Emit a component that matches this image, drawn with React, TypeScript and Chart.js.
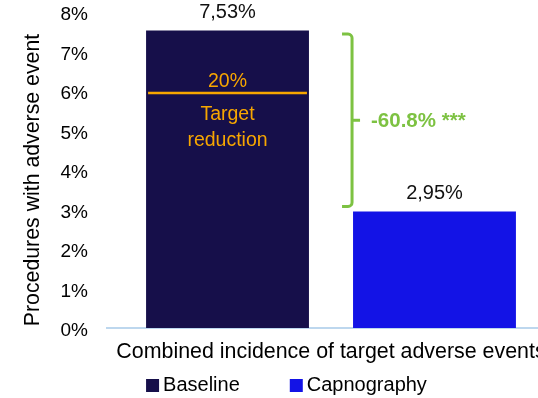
import React, { useEffect, useRef } from "react";
import { Chart, registerables } from "chart.js";

Chart.register(...registerables);

const categories = ["Combined incidence of target adverse events"];
const seriesNames = ["Baseline", "Capnography"];
const baselineValues = [7.53];
const capnographyValues = [2.95];
const yTickValues = [0, 1, 2, 3, 4, 5, 6, 7, 8];
const targetLevel = [5.95];
const targetTop = "20%";
const targetLines = ["Target", "reduction"];
const changeLabel = "-60.8% ***";
const yTitle = "Procedures with adverse event";

const NAVY = "#160F4A";
const BLUE = "#1313E6";
const ORANGE = "#F7A600";
const GREEN = "#7DC242";
const AXIS = "#BDD7EE";
const FONT = "'Liberation Sans', Arial, sans-serif";

const fmt = (v: number) => v.toFixed(2).replace(".", ",") + "%";

const annotPlugin = {
  id: "annot",
  afterDraw(chart: any) {
    const ctx: CanvasRenderingContext2D = chart.ctx;
    const ys = chart.scales.y;
    const b1 = chart.getDatasetMeta(0).data[0] as any;
    const b2 = chart.getDatasetMeta(1).data[0] as any;
    const bars = [b1, b2];
    const vals = [baselineValues[0], capnographyValues[0]];
    ctx.save();

    // y title
    ctx.save();
    ctx.translate(33, 180);
    ctx.rotate(-Math.PI / 2);
    ctx.font = `21.3px ${FONT}`;
    ctx.fillStyle = "#000";
    ctx.textAlign = "center";
    ctx.textBaseline = "middle";
    ctx.fillText(yTitle, 0, 0);
    ctx.restore();

    // value labels
    ctx.font = `20px ${FONT}`;
    ctx.fillStyle = "#111";
    ctx.textAlign = "center";
    ctx.textBaseline = "alphabetic";
    bars.forEach((b, i) => ctx.fillText(fmt(vals[i]), b.x, b.y - 12.5));

    // target line
    const ty = ys.getPixelForValue(targetLevel[0]);
    ctx.strokeStyle = ORANGE;
    ctx.lineWidth = 2.5;
    ctx.beginPath();
    ctx.moveTo(b1.x - b1.width / 2 + 2, ty);
    ctx.lineTo(b1.x + b1.width / 2 - 2, ty);
    ctx.stroke();
    ctx.fillStyle = ORANGE;
    ctx.font = `19.5px ${FONT}`;
    ctx.fillText(targetTop, b1.x, ty - 6);
    ctx.fillText(targetLines[0], b1.x, ty + 27);
    ctx.fillText(targetLines[1], b1.x, ty + 53);

    // bracket
    const bx = b2.x - b2.width / 2 - 1;
    const top = b1.y + 3.5;
    const bot = b2.y - 5;
    const mid = (top + bot) / 2;
    ctx.strokeStyle = GREEN;
    ctx.lineWidth = 3;
    ctx.beginPath();
    ctx.moveTo(bx - 10, top);
    ctx.arcTo(bx, top, bx, bot, 4);
    ctx.arcTo(bx, bot, bx - 10, bot, 4);
    ctx.lineTo(bx - 10, bot);
    ctx.stroke();
    ctx.beginPath();
    ctx.moveTo(bx, mid);
    ctx.lineTo(bx + 8, mid);
    ctx.stroke();
    ctx.fillStyle = GREEN;
    ctx.font = `bold 20.5px ${FONT}`;
    ctx.textAlign = "left";
    ctx.textBaseline = "middle";
    ctx.fillText(changeLabel, bx + 19, mid + 1.5);

    // legend
    const colors = [NAVY, BLUE];
    let lx = b1.x - b1.width / 2;
    const ly = 385.5;
    ctx.font = `20px ${FONT}`;
    seriesNames.forEach((name, i) => {
      ctx.fillStyle = colors[i];
      ctx.fillRect(lx, ly - 6.5, 13, 13);
      ctx.fillStyle = "#000";
      ctx.fillText(name, lx + 17, ly);
      lx += 17 + ctx.measureText(name).width + 50;
    });

    ctx.restore();
  },
};

export default function App() {
  const ref = useRef<HTMLCanvasElement | null>(null);
  useEffect(() => {
    if (!ref.current) return;
    Chart.defaults.font.family = FONT;
    const chart = new Chart(ref.current, {
      type: "bar",
      data: {
        labels: categories,
        datasets: [
          { label: seriesNames[0], data: baselineValues, backgroundColor: NAVY },
          { label: seriesNames[1], data: capnographyValues, backgroundColor: BLUE },
        ],
      },
      options: {
        responsive: false,
        animation: false,
        devicePixelRatio: 1,
        layout: { padding: { top: 12, right: 5, left: 0, bottom: 0 } },
        datasets: { bar: { barPercentage: 0.787, categoryPercentage: 0.924 } },
        plugins: { legend: { display: false }, tooltip: { enabled: false } },
        scales: {
          x: {
            grid: { display: false, drawTicks: false },
            border: { display: true, color: AXIS, width: 2 },
            ticks: {
              autoSkip: false,
              maxRotation: 0,
              padding: 11,
              color: "#000",
              font: { size: 21.4 },
            },
            afterFit: (s: any) => {
              s.height = 70;
            },
          },
          y: {
            min: yTickValues[0],
            max: yTickValues[yTickValues.length - 1],
            grid: { display: false, drawTicks: false },
            border: { display: false },
            afterBuildTicks: (s: any) => {
              s.ticks = yTickValues.map((v) => ({ value: v }));
            },
            ticks: {
              stepSize: 1,
              padding: 19,
              labelOffset: 3,
              color: "#000",
              font: { size: 19, lineHeight: 0.1 },
              callback: (v: any) => v + "%",
            },
            afterFit: (s: any) => {
              s.width = 107;
              s.paddingTop = 0;
              s.paddingBottom = 0;
            },
          },
        },
      },
      plugins: [annotPlugin],
    });
    return () => chart.destroy();
  }, []);
  return (
    <div
      style={{
        position: "fixed",
        left: 0,
        top: 0,
        width: 538,
        height: 398,
        overflow: "hidden",
        background: "#fff",
      }}
    >
      <canvas ref={ref} width={560} height={398} />
    </div>
  );
}
